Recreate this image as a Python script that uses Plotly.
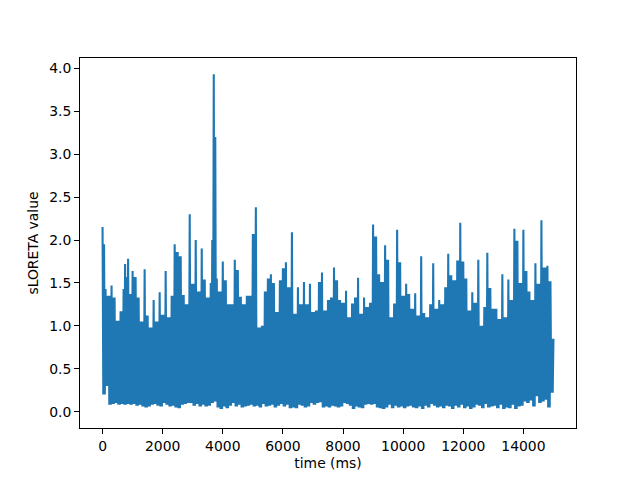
import plotly.graph_objects as go

peak_values = [
    2.15,1.43,1.35,1.47,1.33,1.06,1.17,1.43,1.57,1.37,
    1.64,1.57,1.33,1.05,1.66,1.12,0.98,1.30,1.05,1.39,
    1.13,1.64,1.10,1.35,1.95,1.86,1.81,1.36,1.25,2.30,
    1.49,2.00,1.40,1.90,1.54,1.33,1.50,3.93,1.55,1.40,
    1.75,1.53,1.25,1.25,1.77,1.65,1.34,1.25,1.35,1.35,
    2.07,2.38,0.98,1.00,1.40,1.55,1.60,1.50,1.16,1.53,
    1.67,1.74,1.45,2.09,1.14,1.45,1.25,1.51,1.25,1.49,
    1.16,1.18,1.51,1.62,1.18,1.30,1.33,1.68,1.53,1.30,
    1.27,1.41,1.10,1.26,1.33,1.56,1.14,1.33,1.22,1.27,
    2.18,2.04,1.60,1.51,1.94,1.77,1.10,1.26,2.12,1.74,
    1.35,1.49,1.37,1.20,1.38,1.12,1.81,1.15,1.10,1.25,
    1.73,1.20,1.30,1.25,1.45,1.84,1.59,1.53,1.76,2.20,
    1.75,1.55,1.18,1.39,1.27,1.77,1.00,1.22,1.85,1.44,
    1.20,1.20,1.08,1.60,1.10,1.54,1.30,2.13,1.99,1.50,
    2.12,1.64,1.40,1.30,1.73,1.49,2.23,1.68,1.70,1.52,
    0.85,
]
# secondary peaks read half a step after a main peak (index of main peak: value)
half_step_peaks = {0: 1.95, 7: 1.72, 8: 1.78, 36: 2.00, 37: 3.20}
trough_values = [
    0.20,0.30,0.08,0.09,0.10,0.08,0.09,0.08,0.09,0.08,
    0.09,0.07,0.08,0.06,0.05,0.06,0.08,0.09,0.07,0.06,
    0.10,0.08,0.06,0.07,0.05,0.04,0.08,0.09,0.10,0.10,
    0.07,0.09,0.06,0.08,0.06,0.07,0.10,0.12,0.05,0.03,
    0.06,0.04,0.07,0.10,0.06,0.08,0.05,0.06,0.07,0.08,
    0.06,0.07,0.05,0.09,0.06,0.07,0.08,0.05,0.07,0.09,
    0.06,0.08,0.04,0.05,0.04,0.08,0.07,0.05,0.06,0.10,
    0.08,0.10,0.11,0.05,0.06,0.05,0.07,0.06,0.05,0.06,
    0.10,0.09,0.07,0.03,0.06,0.05,0.04,0.08,0.09,0.08,
    0.09,0.05,0.04,0.03,0.05,0.08,0.04,0.07,0.05,0.06,
    0.04,0.06,0.07,0.05,0.04,0.06,0.03,0.07,0.05,0.09,
    0.07,0.05,0.06,0.04,0.07,0.06,0.03,0.07,0.05,0.08,
    0.04,0.06,0.03,0.05,0.08,0.07,0.04,0.09,0.05,0.06,
    0.07,0.04,0.08,0.03,0.05,0.04,0.08,0.03,0.06,0.07,
    0.12,0.10,0.13,0.06,0.18,0.10,0.12,0.14,0.05,0.22,
]
sample_step_ms = 25
x_ticks = [0, 2000, 4000, 6000, 8000, 10000, 12000, 14000]
y_ticks = [0.0, 0.5, 1.0, 1.5, 2.0, 2.5, 3.0, 3.5, 4.0]

values = []
for k, (hi, lo) in enumerate(zip(peak_values, trough_values)):
    nxt = peak_values[k + 1]
    mid = half_step_peaks.get(k, min(hi, nxt))
    values.extend([hi, lo, mid, lo])
values.append(peak_values[-1])
time_ms = [i * sample_step_ms for i in range(len(values))]

fig = go.Figure(go.Scatter(
    x=time_ms, y=values, mode="lines",
    line=dict(color="#1f77b4", width=2.08, simplify=False), hoverinfo="skip",
))
axis_font = dict(family="DejaVu Sans", size=13.9, color="black")
common = dict(
    showgrid=False, zeroline=False, showline=True, mirror=True,
    linecolor="black", linewidth=1.1, ticks="outside", ticklen=4.9,
    tickwidth=1.1, tickcolor="black", tickfont=axis_font,
)
fig.update_xaxes(range=[-750, 15750], tickvals=x_ticks, tickformat="d",
                 title=dict(text="time (ms)", font=axis_font, standoff=5), **common)
fig.update_yaxes(range=[-0.19, 4.12], tickvals=y_ticks, tickformat=".1f",
                 title=dict(text="sLORETA value", font=axis_font, standoff=7), **common)
fig.update_layout(
    width=632, height=472, showlegend=False,
    paper_bgcolor="white", plot_bgcolor="white",
    margin=dict(l=72, r=64, t=50, b=52, pad=0),
)
fig.write_html("out.html")
